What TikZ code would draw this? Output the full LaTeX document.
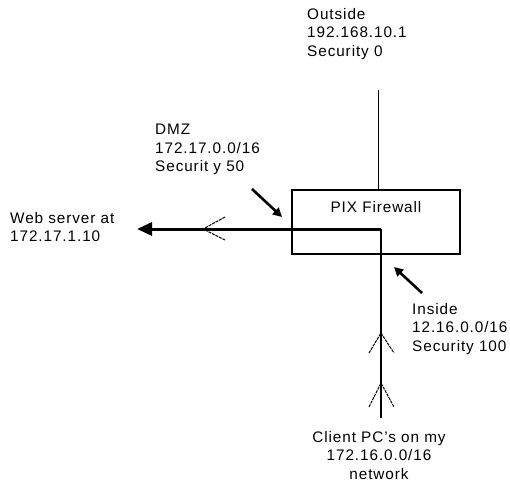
\documentclass[tikz,border=0pt]{standalone}
\usepackage{fontspec}
\setmainfont{Liberation Sans}[LetterSpace=6]
\usetikzlibrary{arrows.meta}
\begin{document}
\begin{tikzpicture}[x=1pt,y=-1pt,
  lbl/.style={font=\fontsize{15.3}{18.5}\selectfont, inner sep=0pt},
  thin line/.style={line width=0.9pt},
  chev/.style={line width=1pt, dash pattern=on 3pt off 0.9pt},
  fat/.style={line width=3pt},
  pointer/.style={line width=2.6pt, -{Triangle[length=9pt,width=9pt]}}]
\useasboundingbox (0,0) rectangle (510,488);
% labels
\node[lbl, align=left, anchor=north west] (out) at (307,8) {Outside\\192.168.10.1\\Security 0};
\node[lbl, align=left, anchor=north west] (dmz) at (155,124) {DMZ\\172.17.0.0/16\\Securit y 50};
\node[lbl, align=left, anchor=north west] (web) at (10,212) {Web server at\\172.17.1.10};
\node[lbl, align=left, anchor=north west] (ins) at (412,303) {Inside\\12.16.0.0/16\\Security 100};
\node[lbl, align=center, anchor=north] (cli) at (379,431) {Client PC's on my\\172.16.0.0/16\\network};
% firewall box
\node[draw, line width=1.3pt, minimum width=168pt, minimum height=64pt, inner sep=0pt] (fw) at (376,222) {};
\node[lbl] (fwt) at (376,207) {PIX Firewall};
% coordinates
\coordinate (top) at (378,90);
\coordinate (corner) at (381,229);
\coordinate (bottom) at (381,418);
\coordinate (tip) at (137,229);
\coordinate (dmzs) at (252,189);
\coordinate (dmze) at (282,217);
\coordinate (inss) at (422,293);
\coordinate (inse) at (394,267);
% lines
\draw[thin line] (top) -- (fw.north -| top);
\draw[line width=2pt] (bottom) -- (corner);
\draw[fat, -{Triangle[length=15pt,width=13pt]}] (corner) -- (tip);
% chevrons
\draw[chev] (225,217) -- (203,229) -- (225,240);
\draw[chev] (369,353) -- (381,333) -- (394,353);
\draw[chev] (369,407) -- (381,383) -- (394,407);
% pointer arrows
\draw[pointer] (dmzs) -- (dmze);
\draw[pointer] (inss) -- (inse);
\end{tikzpicture}
\end{document}
